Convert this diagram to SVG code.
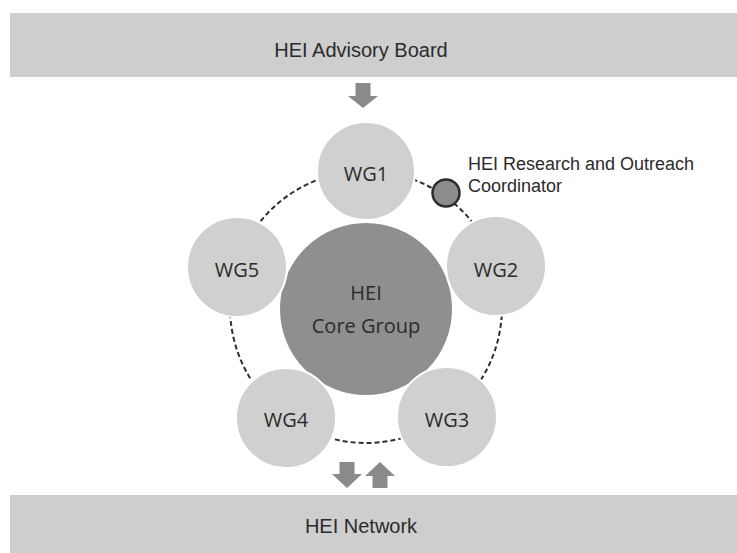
<svg xmlns="http://www.w3.org/2000/svg" width="737" height="553" viewBox="0 0 737 553">
  <defs>
    <style>
      .bar { fill: #cecece; }
      .bartxt { font-family: "Liberation Sans", Arial, sans-serif; font-size: 20px; fill: #2b2b2b; text-anchor: middle; }
      .wg { fill: #d0d0d0; stroke: #ffffff; stroke-width: 2; }
      .core { fill: #8f8f8f; stroke: #ffffff; stroke-width: 2; }
      .lbl { font-family: "Open Sans", "Noto Sans", sans-serif; font-size: 20px; fill: #2b2b2b; text-anchor: middle; }
      .arrow { fill: #8a8a8a; }
      .ring { fill: none; stroke: #2e2e2e; stroke-width: 2; stroke-dasharray: 5 3; }
      .coord { fill: #8c8c8c; stroke: #2e2e2e; stroke-width: 2.5; }
      .ctxt { font-family: "Liberation Sans", Arial, sans-serif; font-size: 18px; fill: #2b2b2b; }
    </style>
  </defs>
  <rect width="737" height="553" fill="#ffffff"/>

  <g id="advisory-board">
    <rect class="bar" x="10" y="13" width="727" height="64"/>
    <text class="bartxt" x="361" y="57">HEI Advisory Board</text>
  </g>

  <g id="network">
    <rect class="bar" x="10" y="495" width="727" height="58"/>
    <text class="bartxt" x="361" y="533">HEI Network</text>
  </g>

  <g id="connectors">
    <circle class="ring" cx="366" cy="307" r="136"/>
    <path class="arrow" d="M355.5,83 H370.5 V96 H378 L363,108 L348,96 H355.5 Z"/>
    <path class="arrow" d="M339.5,462 H354.5 V474 H362 L347,488 L332,474 H339.5 Z"/>
    <path class="arrow" d="M380,462 L395,476 H387.5 V488 H372.5 V476 H365 Z"/>
  </g>

  <g id="core-group">
    <circle class="core" cx="366" cy="309" r="87"/>
    <text class="lbl" x="366" y="300">HEI</text>
    <text class="lbl" x="366" y="333">Core Group</text>
  </g>

  <g id="wg1">
    <circle class="wg" cx="366" cy="171" r="49"/>
    <text class="lbl" x="366" y="181">WG1</text>
  </g>
  <g id="wg2">
    <circle class="wg" cx="496" cy="266" r="50"/>
    <text class="lbl" x="496" y="277">WG2</text>
  </g>
  <g id="wg3">
    <circle class="wg" cx="447" cy="417" r="50"/>
    <text class="lbl" x="447" y="427">WG3</text>
  </g>
  <g id="wg4">
    <circle class="wg" cx="286" cy="418" r="50"/>
    <text class="lbl" x="286" y="427">WG4</text>
  </g>
  <g id="wg5">
    <circle class="wg" cx="237" cy="267" r="50"/>
    <text class="lbl" x="237" y="277">WG5</text>
  </g>

  <g id="coordinator">
    <circle class="coord" cx="446" cy="193" r="13.5"/>
    <text class="ctxt" x="468" y="170">HEI Research and Outreach</text>
    <text class="ctxt" x="468" y="192">Coordinator</text>
  </g>
</svg>
